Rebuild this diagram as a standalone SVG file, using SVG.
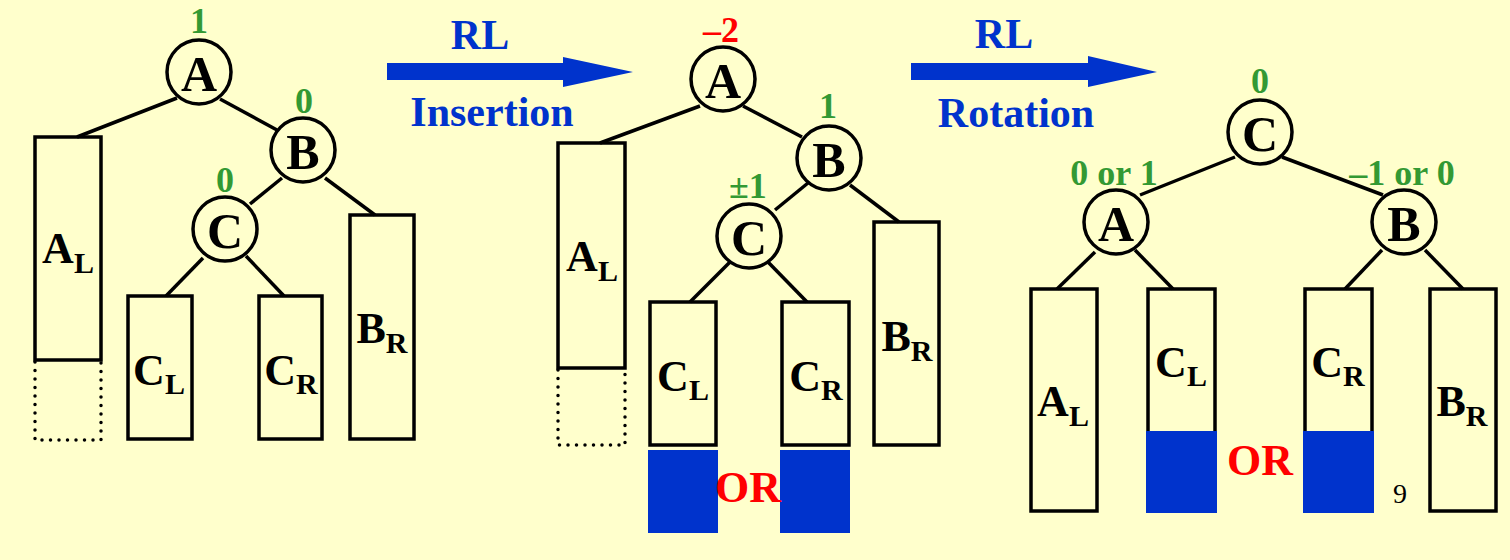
<svg xmlns="http://www.w3.org/2000/svg" width="1510" height="560" viewBox="0 0 1510 560">
<style>
.e{stroke:#000;stroke-width:3.5;fill:none}
.c{stroke:#000;stroke-width:3.5;fill:#FFFFCC}
.r{stroke:#000;stroke-width:3.5;fill:none}
.d{stroke:#000;stroke-width:3.5;fill:none;stroke-dasharray:0 8.5;stroke-linecap:round}
.blue{fill:#0033CC}
.t{font-family:"Liberation Serif","Times New Roman",serif;font-weight:bold;text-anchor:middle}
.n{font-size:50px;fill:#000}
.s{font-size:44px;fill:#000}
.g{font-size:36px;fill:#339933}
.red{fill:#FF0000}
.a{font-size:42px;fill:#0033CC}
.or{font-size:44px;fill:#FF0000}
</style>
<rect x="0" y="0" width="1510" height="560" fill="#FFFFCC"/>
<g id="connectors">
<line class="e" x1="177" y1="98" x2="77" y2="137"/>
<line class="e" x1="220" y1="99" x2="277" y2="130"/>
<line class="e" x1="282" y1="178" x2="250" y2="204"/>
<line class="e" x1="325" y1="178" x2="375" y2="215"/>
<line class="e" x1="203" y1="258" x2="166" y2="296"/>
<line class="e" x1="246" y1="256" x2="284" y2="296"/>
<line class="e" x1="700" y1="106" x2="600" y2="143"/>
<line class="e" x1="743" y1="106" x2="802" y2="137"/>
<line class="e" x1="808" y1="183" x2="775" y2="210"/>
<line class="e" x1="850" y1="185" x2="899" y2="222"/>
<line class="e" x1="730" y1="262" x2="690" y2="302"/>
<line class="e" x1="768" y1="262" x2="807" y2="302"/>
<line class="e" x1="1235" y1="157" x2="1140" y2="195"/>
<line class="e" x1="1282" y1="157" x2="1383" y2="195"/>
<line class="e" x1="1095" y1="252" x2="1057" y2="289"/>
<line class="e" x1="1135" y1="250" x2="1173" y2="289"/>
<line class="e" x1="1382" y1="250" x2="1345" y2="289"/>
<line class="e" x1="1425" y1="250" x2="1463" y2="289"/>
</g>
<g id="arrows">
<path class="blue" d="M387,63 H563 V57 L633,72 L563,87 V80 H387 Z"/>
<path class="blue" d="M911,63 H1088 V56 L1157,72 L1088,87 V80 H911 Z"/>
<text class="t a" x="480" y="49">RL</text>
<text class="t a" x="492" y="126">Insertion</text>
<text class="t a" x="1004" y="48">RL</text>
<text class="t a" x="1016" y="127">Rotation</text>
</g>
<!-- Tree 1 -->
<g id="t1-A"><circle class="c" cx="199" cy="72" r="32"/><text class="t n" x="199" y="91">A</text><text class="t g" x="199" y="33">1</text></g>
<g id="t1-B"><circle class="c" cx="303" cy="150" r="32"/><text class="t n" x="303" y="169">B</text><text class="t g" x="304" y="113">0</text></g>
<g id="t1-C"><circle class="c" cx="225" cy="229" r="32"/><text class="t n" x="225" y="248">C</text><text class="t g" x="225" y="192">0</text></g>
<g id="t1-AL"><rect class="r" x="35" y="137" width="66" height="223"/><path class="d" d="M35,362 V440 H101 V362"/><text class="t s" x="68" y="263">A<tspan dy="10" font-size="30">L</tspan></text></g>
<g id="t1-CL"><rect class="r" x="128" y="296" width="64" height="143"/><text class="t s" x="159" y="385">C<tspan dy="9" font-size="30">L</tspan></text></g>
<g id="t1-CR"><rect class="r" x="259" y="296" width="63" height="143"/><text class="t s" x="291" y="385">C<tspan dy="9" font-size="30">R</tspan></text></g>
<g id="t1-BR"><rect class="r" x="350" y="215" width="64" height="224"/><text class="t s" x="382" y="343">B<tspan dy="10" font-size="30">R</tspan></text></g>
<!-- Tree 2 -->
<g id="t2-A"><circle class="c" cx="723" cy="79" r="32"/><text class="t n" x="723" y="98">A</text><text class="t g red" x="721" y="42">–2</text></g>
<g id="t2-B"><circle class="c" cx="829" cy="158" r="32"/><text class="t n" x="829" y="177">B</text><text class="t g" x="828" y="118">1</text></g>
<g id="t2-C"><circle class="c" cx="749" cy="236" r="32"/><text class="t n" x="749" y="255">C</text><text class="t g" x="748" y="198">±1</text></g>
<g id="t2-AL"><rect class="r" x="558" y="143" width="67" height="225"/><path class="d" d="M558,370 V445 H625 V370"/><text class="t s" x="592" y="271">A<tspan dy="10" font-size="30">L</tspan></text></g>
<g id="t2-CL"><rect class="r" x="650" y="302" width="66" height="143"/><text class="t s" x="683" y="391">C<tspan dy="9" font-size="30">L</tspan></text></g>
<g id="t2-CR"><rect class="r" x="782" y="302" width="67" height="143"/><text class="t s" x="816" y="391">C<tspan dy="9" font-size="30">R</tspan></text></g>
<g id="t2-BR"><rect class="r" x="874" y="222" width="65" height="223"/><text class="t s" x="907" y="351">B<tspan dy="10" font-size="30">R</tspan></text></g>
<g id="t2-new"><rect class="blue" x="648" y="450" width="70" height="83"/><rect class="blue" x="780" y="450" width="70" height="83"/><text class="t or" x="748" y="502">OR</text></g>
<!-- Tree 3 -->
<g id="t3-C"><circle class="c" cx="1260" cy="132" r="32"/><text class="t n" x="1260" y="151">C</text><text class="t g" x="1260" y="93">0</text></g>
<g id="t3-A"><circle class="c" cx="1116" cy="222" r="32"/><text class="t n" x="1116" y="241">A</text><text class="t g" x="1114" y="185">0 or 1</text></g>
<g id="t3-B"><circle class="c" cx="1404" cy="222" r="32"/><text class="t n" x="1404" y="241">B</text><text class="t g" x="1402" y="185">–1 or 0</text></g>
<g id="t3-AL"><rect class="r" x="1031" y="289" width="66" height="222"/><text class="t s" x="1063" y="416">A<tspan dy="10" font-size="30">L</tspan></text></g>
<g id="t3-CL"><rect class="r" x="1148" y="289" width="67" height="222"/><rect class="blue" x="1146" y="431" width="71" height="82"/><text class="t s" x="1181" y="377">C<tspan dy="9" font-size="30">L</tspan></text></g>
<g id="t3-CR"><rect class="r" x="1305" y="289" width="67" height="222"/><rect class="blue" x="1303" y="431" width="71" height="82"/><text class="t s" x="1338" y="377">C<tspan dy="9" font-size="30">R</tspan></text></g>
<g id="t3-BR"><rect class="r" x="1430" y="289" width="66" height="222"/><text class="t s" x="1462" y="416">B<tspan dy="10" font-size="30">R</tspan></text></g>
<text class="t or" x="1260" y="475">OR</text>
<text x="1400" y="503" font-family="Liberation Serif, serif" font-size="28" text-anchor="middle" fill="#000">9</text>
</svg>
